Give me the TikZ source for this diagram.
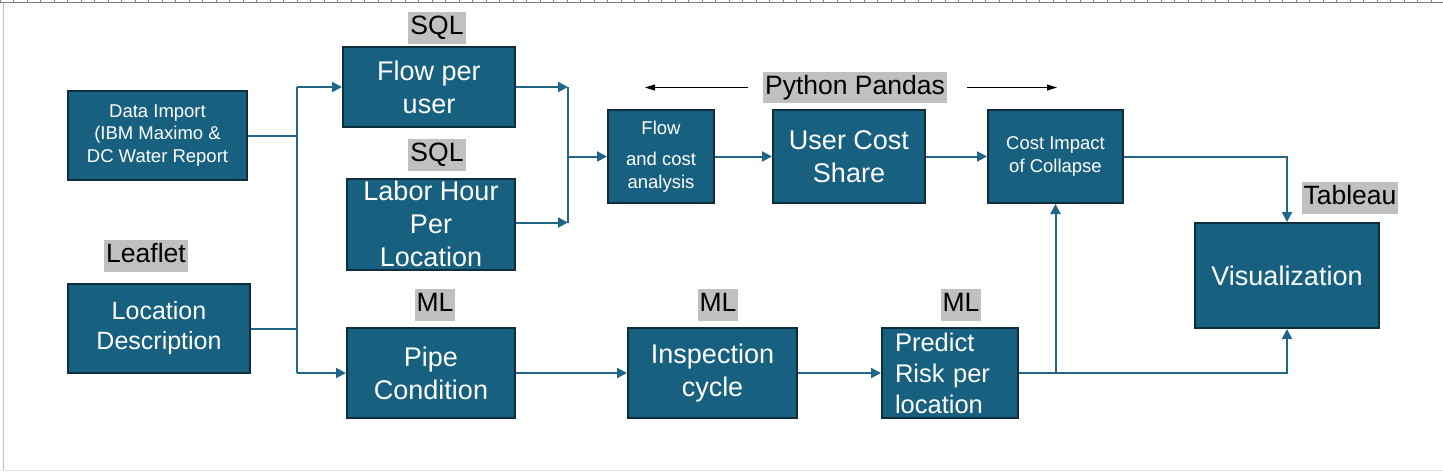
\documentclass[tikz,border=0pt]{standalone}
\usepackage{fontspec}
\setmainfont{Liberation Sans}
\usetikzlibrary{arrows.meta}
\definecolor{boxblue}{HTML}{17607F}
\definecolor{boxedge}{HTML}{0E2E3E}
\definecolor{linkblue}{HTML}{1F6688}
\definecolor{tagbg}{HTML}{C0C0C0}
\newcommand{\bigtxt}{\fontsize{27}{33}\selectfont}
\newcommand{\midtxt}{\fontsize{25}{30}\selectfont}
\newcommand{\smalltxt}{\fontsize{18.5}{22.5}\selectfont}
\newcommand{\toolnote}[3] % name, position, text
{
	\node[toolbg] (#1) at #2 {#3};
}
\tikzset{
	blk/.style={draw=boxedge, line width=2pt, fill=boxblue, text=white, align=center, inner sep=0pt},
	toolbg/.style={fill=tagbg, inner xsep=2pt, inner ysep=3pt, text height=19.5pt, text depth=6pt, font=\fontsize{26.5}{30}\selectfont},
	link/.style={draw=linkblue, line width=2pt, -{Triangle[length=10pt,width=10pt]}},
	wire/.style={draw=linkblue, line width=2pt},
	spanarrow/.style={draw=black, line width=1pt, -{Triangle[length=10pt,width=6pt]}}
}
\begin{document}
\begin{tikzpicture}[x=1pt, y=-1pt]
	\useasboundingbox (0,0) rectangle (1443,472);
	% page edges
	\draw[gray, line width=1pt] (0,2.5) -- (1443,2.5);
	\foreach \i in {0,...,106}
		\draw[gray, line width=0.6pt] (\i*13.5,0) -- (\i*13.5,2.5);
	\draw[black!25, line width=1pt] (3.5,2.5) -- (3.5,470);
	\draw[black!10, line width=1pt] (3.5,470) -- (1443,470);
	
	% boxes
	\node[blk, minimum width=179pt, minimum height=89pt, font=\smalltxt] (imp) at (157.5,135.5) {Data Import\\(IBM Maximo \&\\DC Water Report};
	\node[blk, minimum width=182pt, minimum height=89pt, font=\midtxt] (loc) at (159,328.5) {Location\\Description};
	\node[blk, minimum width=172pt, minimum height=80pt, font=\bigtxt] (flow) at (429,87) {Flow per\\user};
	\node[blk, minimum width=168pt, minimum height=91pt, font=\bigtxt] (labor) at (431,224) {Labor Hour\\Per\\Location};
	\node[blk, minimum width=168pt, minimum height=90pt, font=\bigtxt] (pipe) at (431,373) {Pipe\\Condition};
	\node[blk, minimum width=169pt, minimum height=90pt, font=\bigtxt] (insp) at (712.5,373) {Inspection\\cycle};
	\node[blk, minimum height=90pt, text width=110pt, align=left, inner xsep=13pt, font=\fontsize{25.5}{31}\selectfont] (risk) at (950,373) {Predict\\Risk per\\location};
	\node[blk, minimum width=106pt, minimum height=93pt, font=\smalltxt] (fca) at (661,156.5) {Flow\\[8.5pt]and cost\\analysis};
	\node[blk, minimum width=152pt, minimum height=93pt, font=\bigtxt] (ucs) at (849,156.5) {User Cost\\Share};
	\node[blk, minimum width=135pt, minimum height=93pt, font=\smalltxt] (cic) at (1055.5,156.5) {Cost Impact\\of Collapse};
	\node[blk, minimum width=184pt, minimum height=105pt, font=\bigtxt] (vis) at (1287,275.5) {Visualization};
	
	% tool labels
	\toolnote{sqlA}{(437,28)}{SQL}
	\toolnote{sqlB}{(437,155)}{SQL}
	\toolnote{leaf}{(146,256)}{Leaflet}
	\toolnote{mlA}{(435,305)}{ML}
	\toolnote{mlB}{(718,305)}{ML}
	\toolnote{mlC}{(961,305)}{ML}
	\toolnote{pandas}{(855,87.5)}{Python Pandas}
	\toolnote{tabl}{(1350,198)}{Tableau}
	\coordinate (spanL) at (645,87.5);
	\coordinate (spanR) at (1057,87.5);
	\draw[spanarrow] ([xshift=-15pt]pandas.west) -- (spanL);
	\draw[spanarrow] ([xshift=20pt]pandas.east) -- (spanR);
	
	% inputs
	\coordinate (trunkT) at (297,87);
	\coordinate (trunkB) at (297,373);
	\draw[wire] (trunkT) -- (trunkB);
	\draw[wire] (imp.east) -- (imp.east -| trunkT);
	\draw[wire] (loc.east) -- (loc.east -| trunkT);
	\draw[link] (trunkT) -- (flow.west);
	\draw[link] (trunkB) -- (pipe.west);
	
	% upper chain
	\coordinate (mergeT) at (568,87);
	\coordinate (mergeB) at (568,222.5);
	\draw[link] (flow.east) -- (mergeT);
	\draw[link] (labor.east |- mergeB) -- (mergeB);
	\draw[wire] (mergeT) -- (mergeB);
	\draw[link] (mergeT |- fca.west) -- (fca.west);
	\draw[link] (fca) -- (ucs);
	\draw[link] (ucs) -- (cic);
	\draw[link] (cic.east) -| (vis.north);
	
	% lower chain
	\draw[link] (pipe) -- (insp);
	\draw[link] (insp) -- (risk);
	\draw[link] (risk.east) -| (vis.south);
	\draw[link] (risk.east -| cic.south) -- (cic.south);
\end{tikzpicture}
\end{document}
